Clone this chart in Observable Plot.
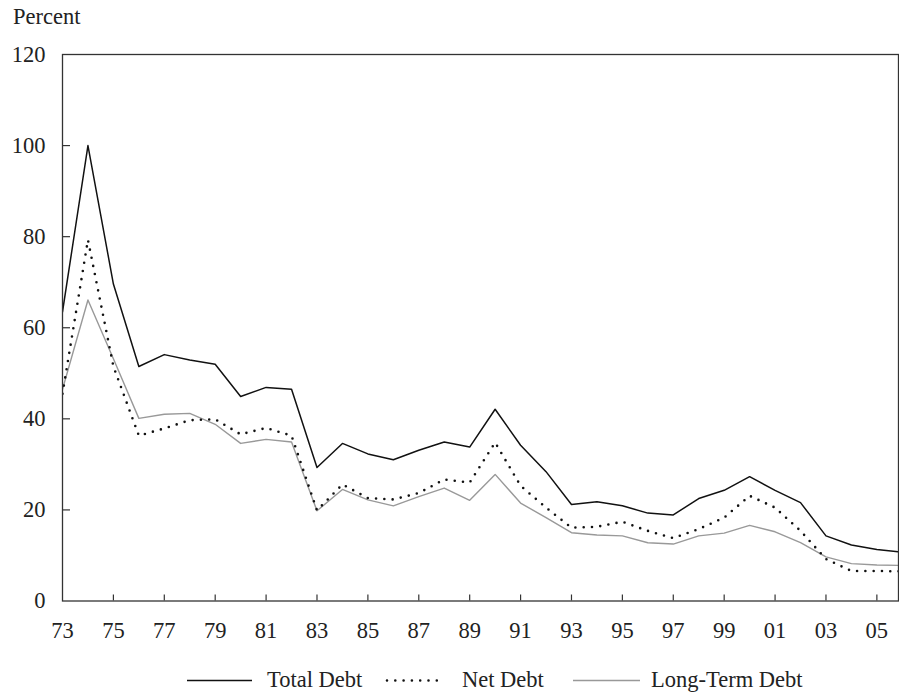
<!DOCTYPE html>
<html><head><meta charset="utf-8">
<script src="https://cdn.jsdelivr.net/npm/d3@7"></script>
<script src="https://cdn.jsdelivr.net/npm/@observablehq/plot@0.6"></script>
<style>
body{margin:0;background:#fff;font-family:"Liberation Serif",serif;color:#222}
#wrap{position:relative;width:899px;height:696px;overflow:hidden}
#chart{position:absolute;left:0;top:0}
#ylab{position:absolute;left:13px;top:5px;font-size:22.5px;line-height:24px}
.lg{position:absolute;top:667px;font-size:22.5px;line-height:26px;white-space:nowrap}
.sw{position:absolute;top:667px;height:26px}
</style></head><body>
<div id="wrap"><div id="chart"></div><div id="ylab">Percent</div><div id="legend"></div></div>
<script>
const years = [1973,1974,1975,1976,1977,1978,1979,1980,1981,1982,1983,1984,1985,1986,1987,1988,1989,1990,1991,1992,1993,1994,1995,1996,1997,1998,1999,2000,2001,2002,2003,2004,2005,2006];
const totalDebt = [63.5,100,69.6,51.5,54.1,52.9,52.0,44.9,46.9,46.5,29.3,34.6,32.3,31.0,33.1,34.9,33.8,42.1,34.2,28.4,21.2,21.8,20.9,19.3,18.9,22.5,24.3,27.3,24.3,21.6,14.3,12.3,11.3,10.7];
const netDebt = [45.5,79.3,51.5,36.3,37.9,39.7,39.9,36.6,38.0,36.3,19.9,25.6,22.6,22.3,23.7,26.7,26.0,34.8,25.3,20.5,16.1,16.3,17.4,15.4,13.8,15.8,18.3,23.1,20.5,15.4,9.2,6.6,6.6,6.5];
const longTermDebt = [46.5,66.1,53.2,40.1,41.0,41.2,38.8,34.6,35.5,34.9,19.8,24.5,22.2,20.9,22.9,24.8,22.1,27.8,21.5,18.3,15.0,14.5,14.3,12.8,12.5,14.3,14.9,16.6,15.2,12.8,9.7,8.2,7.9,7.8];
const xTicks = [1973,1975,1977,1979,1981,1983,1985,1987,1989,1991,1993,1995,1997,1999,2001,2003,2005];
const yTicks = [0,20,40,60,80,100,120];
const seriesNames = ["Total Debt","Net Debt","Long-Term Debt"];

const rows = years.map((year,i)=>({year,total:totalDebt[i],net:netDebt[i],lt:longTermDebt[i]}));

const chart = Plot.plot({
  width: 899, height: 645,
  marginTop: 54, marginLeft: 62, marginRight: 1, marginBottom: 44.5,
  style: {fontFamily: "Liberation Serif", fontSize: "22.5px", color: "#222", background: "#fff"},
  x: {domain: [1973, 2005.85]},
  y: {domain: [0, 120]},
  marks: [
    Plot.axisX(xTicks, {tickSize: 0, tickPadding: 21, tickFormat: d => String(d % 100).padStart(2, "0"), label: null, fill: "#222"}),
    Plot.axisY(yTicks, {tickSize: 0, tickPadding: 17, label: null, fill: "#222"}),
    Plot.axisX(xTicks.filter(d => d > 1973), {tickSize: 6, dy: -6, tickFormat: () => "", label: null, stroke: "#333", strokeWidth: 1.2}),
    Plot.axisY(yTicks.filter(d => d > 0 && d < 120), {tickSize: 8, dx: 8, tickFormat: () => "", label: null, stroke: "#333", strokeWidth: 1.2}),
    Plot.line(rows, {x: "year", y: "lt", stroke: "#999", strokeWidth: 1.4, clip: true}),
    Plot.line(rows, {x: "year", y: "total", stroke: "#111", strokeWidth: 1.5, clip: true}),
    Plot.line(rows, {x: "year", y: "net", stroke: "#111", strokeWidth: 2.6, strokeDasharray: "0 8.3", strokeLinecap: "round", clip: true}),
    Plot.frame({stroke: "#333", strokeWidth: 1.3})
  ]
});
document.getElementById("chart").appendChild(chart);

const legend = document.getElementById("legend");
const items = [
  {name: seriesNames[0], stroke: "#111", w: 1.5, dash: null, cap: "butt", sx: 187, sw: 65, tx: 267},
  {name: seriesNames[1], stroke: "#111", w: 2.6, dash: "0 8.3", cap: "round", sx: 385, sw: 60, tx: 462},
  {name: seriesNames[2], stroke: "#999", w: 1.4, dash: null, cap: "butt", sx: 573, sw: 67, tx: 651}
];
for (const it of items) {
  const s = d3.create("svg").attr("class", "sw").attr("width", it.sw).attr("height", 26).style("left", it.sx + "px");
  s.append("line").attr("x1", it.cap === "round" ? 2 : 0).attr("x2", it.sw).attr("y1", 13.5).attr("y2", 13.5)
    .attr("stroke", it.stroke).attr("stroke-width", it.w).attr("stroke-dasharray", it.dash).attr("stroke-linecap", it.cap);
  legend.appendChild(s.node());
  const t = document.createElement("div");
  t.className = "lg"; t.style.left = it.tx + "px"; t.textContent = it.name;
  legend.appendChild(t);
}
</script>
</body></html>
